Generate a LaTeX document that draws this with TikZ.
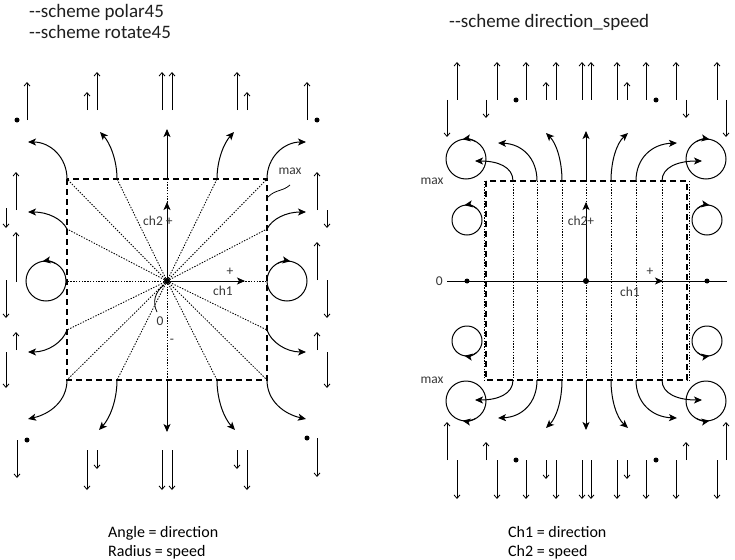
\documentclass[tikz,border=0pt]{standalone}
\usepackage{fontspec}
\setmainfont{Carlito}
\usetikzlibrary{arrows.meta}
\begin{document}
\begin{tikzpicture}[x=1pt,y=-1pt,
  fl/.style={line width=1pt,-{Stealth[length=8pt,width=7pt,inset=2pt]}},
  thinarr/.style={line width=0.8pt,-{Straight Barb[length=3.5pt,width=6pt]}},
  boxdash/.style={line width=1.8pt,dash pattern=on 6pt off 4pt},
  dotl/.style={line width=0.85pt,dash pattern=on 1.4pt off 1.4pt},
  lbl/.style={font=\fontsize{13.5}{15}\selectfont,text=black!78,inner sep=0pt},
  ttl/.style={font=\fontsize{19}{21}\selectfont,text=black!88,inner sep=0pt,anchor=base west},
  btm/.style={font=\fontsize{16}{18}\selectfont,inner sep=0pt,anchor=base west},
  circ/.style={line width=1pt}
]
\fill[white] (0,0) rectangle (735,559);
\useasboundingbox (0,0) rectangle (735,559);

% ================= LEFT DIAGRAM =================
\node[ttl] (t1) at (29,18) {-{}-scheme polar45};
\node[ttl] (t2) at (29,39) {-{}-scheme rotate45};

\coordinate (C) at (167,281);
% dotted rays
\foreach \p in {(67,179),(117,179),(167,179),(217,179),(267,179),(67,229),(267,229),(67,281),(267,281),(67,330),(267,330),(67,380),(117,380),(167,380),(217,380),(267,380)}
  \draw[dotl] (C) -- \p;
\draw[boxdash] (67,179) rectangle (267,380);

% axes
\draw[fl] (C) -- (167,202);
\draw[fl] (C) -- (245,281);
\fill (C) circle[radius=3];

% outward curved arrows
\draw[fl] (67,179) .. controls (67,157) and (50,142) .. (28,142);
\draw[fl] (117,179) .. controls (117,160) and (110,143) .. (100,132);
\draw[fl] (167,179) -- (167,129);
\draw[fl] (217,179) .. controls (217,160) and (224,143) .. (234,132);
\draw[fl] (267,179) .. controls (267,157) and (284,142) .. (306,142);
\draw[fl] (67,229) .. controls (62,219) and (48,212) .. (28,212);
\draw[fl] (267,229) .. controls (272,219) and (286,212) .. (306,212);
\draw[fl] (67,330) .. controls (63,342) and (48,352) .. (28,352);
\draw[fl] (267,330) .. controls (271,342) and (286,352) .. (306,352);
\draw[fl] (67,380) .. controls (67,401) and (50,414) .. (28,419);
\draw[fl] (117,380) .. controls (117,400) and (110,418) .. (99,430);
\draw[fl] (167,380) -- (167,432);
\draw[fl] (217,380) .. controls (217,400) and (224,418) .. (235,430);
\draw[fl] (267,380) .. controls (267,401) and (284,414) .. (306,419);

% circles
\draw[circ] (46,281) circle[radius=20];
\draw[fl] (46,281) ++(-60:20) arc[start angle=-60,end angle=-100,radius=20];
\draw[circ] (287,281) circle[radius=20];
\draw[fl] (287,281) ++(-120:20) arc[start angle=-120,end angle=-80,radius=20];

% labels
\node[lbl,anchor=base west] (ch2L) at (143,225) {ch2 +};
\node[lbl] (plL) at (230,272) {+};
\node[lbl] (ch1L) at (223,291) {ch1};
\node[lbl] (zeroL) at (160,321) {0};
\node[lbl] (minL) at (172,341) {-};
\node[lbl] (maxL) at (290,171) {max};
\draw[line width=0.8pt] (157,312) .. controls (152,302) and (155,292) .. (164,285);
\draw[line width=0.8pt] (290,185) .. controls (282,192) and (276,189) .. (268,197);

% vertical thin arrows - top
\foreach \x/\a/\b in {27/120/82, 87/110/92, 97/110/72, 162/110/72, 172/110/72, 237/110/72, 247/110/92, 307/120/82}
  \draw[thinarr] (\x,\a) -- (\x,\b);
\fill (17,120) circle[radius=2.5];
\fill (317,120) circle[radius=2.5];
% bottom
\foreach \x/\a/\b in {17/440/478, 87/450/490, 97/450/469, 162/450/490, 172/450/490, 237/450/469, 247/450/490, 317/438/477}
  \draw[thinarr] (\x,\a) -- (\x,\b);
\fill (27,440) circle[radius=2.5];
\fill (307,438) circle[radius=2.5];
% side columns
\foreach \x/\a/\b in {16/210/172, 6/208/228, 16/282/232, 6/280/318, 16/350/332, 6/352/388,
                      317/210/172, 327/210/228, 317/280/242, 327/280/318, 317/350/332, 327/352/388}
  \draw[thinarr] (\x,\a) -- (\x,\b);

\node[btm] (b1) at (108,537) {Angle = direction};
\node[btm] (b2) at (108,556) {Radius = speed};

% ================= RIGHT DIAGRAM =================
\node[ttl] (t3) at (449,28) {-{}-scheme direction\_speed};

\coordinate (D) at (586,281);
\foreach \x in {484,513,537,562,611,636,662,689}
  \draw[dotl] (\x,181) -- (\x,380);
\draw[dotl] (586,181) -- (586,380);
\draw[boxdash] (486,181) rectangle (687,380);

\draw[line width=1pt] (447,281) -- (727,281);
\draw[fl] (D) -- (663,281);
\draw[fl] (D) -- (586,202);
\fill (D) circle[radius=3];
\fill (467,281) circle[radius=2.5];
\fill (707,281) circle[radius=2.5];

% curved arrows top
\draw[fl] (513,181) .. controls (513,167) and (498,161) .. (475,161);
\draw[fl] (537,181) .. controls (537,158) and (522,144) .. (498,143);
\draw[fl] (562,181) .. controls (562,160) and (556,143) .. (546,133);
\draw[fl] (586,181) -- (586,131);
\draw[fl] (611,181) .. controls (611,160) and (617,143) .. (628,133);
\draw[fl] (636,181) .. controls (636,158) and (652,144) .. (677,143);
\draw[fl] (662,181) .. controls (662,167) and (678,161) .. (702,161);
% bottom
\draw[fl] (513,380) .. controls (513,394) and (498,400) .. (475,400);
\draw[fl] (537,380) .. controls (537,403) and (522,417) .. (498,418);
\draw[fl] (562,380) .. controls (562,401) and (556,418) .. (546,428);
\draw[fl] (586,380) -- (586,430);
\draw[fl] (611,380) .. controls (611,401) and (617,418) .. (628,428);
\draw[fl] (636,380) .. controls (636,403) and (652,417) .. (677,418);
\draw[fl] (662,380) .. controls (662,394) and (678,400) .. (702,400);

% circles
\draw[circ] (466,159) circle[radius=20];
\draw[fl] (466,159) ++(-60:20) arc[start angle=-60,end angle=-100,radius=20];
\draw[circ] (706,159) circle[radius=20];
\draw[fl] (706,159) ++(-120:20) arc[start angle=-120,end angle=-80,radius=20];
\draw[circ] (467,220) circle[radius=15];
\draw[fl] (467,220) ++(-50:15) arc[start angle=-50,end angle=-100,radius=15];
\draw[circ] (707,220) circle[radius=15];
\draw[fl] (707,220) ++(-130:15) arc[start angle=-130,end angle=-80,radius=15];
\draw[circ] (467,341) circle[radius=15];
\draw[fl] (467,341) ++(50:15) arc[start angle=50,end angle=100,radius=15];
\draw[circ] (707,341) circle[radius=15];
\draw[fl] (707,341) ++(130:15) arc[start angle=130,end angle=80,radius=15];
\draw[circ] (466,401) circle[radius=20];
\draw[fl] (466,401) ++(60:20) arc[start angle=60,end angle=100,radius=20];
\draw[circ] (706,401) circle[radius=20];
\draw[fl] (706,401) ++(120:20) arc[start angle=120,end angle=80,radius=20];

% labels
\node[lbl] (ch2R) at (581,221) {ch2+};
\node[lbl] (plR) at (650,272) {+};
\node[lbl] (ch1R) at (630,292) {ch1};
\node[lbl,anchor=east] (zeroR) at (443,281) {0};
\node[lbl] (maxR1) at (432,181) {max};
\node[lbl] (maxR2) at (432,380) {max};

% vertical thin arrows
\foreach \x in {457,497,526,556,582,591,617,646,676,717}
  {\draw[thinarr] (\x,100) -- (\x,62);
   \draw[thinarr] (\x,460) -- (\x,499);}
\foreach \x in {546,627}
  {\draw[thinarr] (\x,100) -- (\x,82);
   \draw[thinarr] (\x,460) -- (\x,479);}
\foreach \x/\a/\b in {447/100/137, 486/100/118, 686/100/118, 726/100/137,
                      447/460/422, 486/460/442, 686/460/442, 726/460/422}
  \draw[thinarr] (\x,\a) -- (\x,\b);
\fill (516,100) circle[radius=2.5];
\fill (656,100) circle[radius=2.5];
\fill (516,460) circle[radius=2.5];
\fill (656,460) circle[radius=2.5];

\node[btm] (b3) at (508,537) {Ch1 = direction};
\node[btm] (b4) at (508,556) {Ch2 = speed};
\end{tikzpicture}
\end{document}
